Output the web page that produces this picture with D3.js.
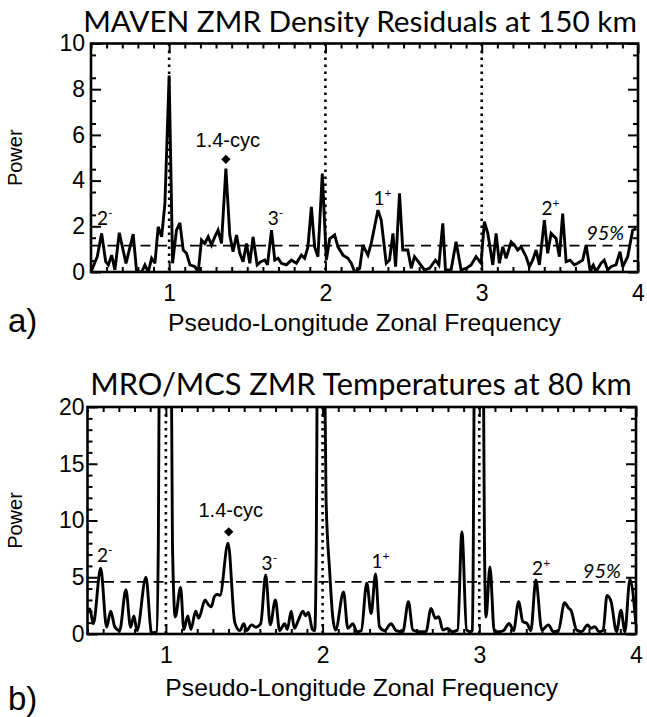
<!DOCTYPE html>
<html><head><meta charset="utf-8">
<script src="https://cdn.jsdelivr.net/npm/d3@7"></script>
<style>body{margin:0;background:#fff} svg{display:block}</style>
</head><body>
<svg id="c" width="647" height="717"></svg>
<script>
// ---------- DATA ----------
const freqA = [0.500,0.540,0.568,0.594,0.611,0.632,0.653,0.681,0.724,0.770,0.792,0.824,0.845,0.866,0.888,0.909,0.930,0.952,0.973,1.000,1.022,1.047,1.069,1.090,1.111,1.133,1.165,1.186,1.207,1.228,1.250,1.271,1.292,1.313,1.335,1.363,1.388,1.409,1.431,1.452,1.473,1.495,1.516,1.537,1.563,1.586,1.612,1.629,1.655,1.676,1.697,1.718,1.750,1.782,1.814,1.846,1.867,1.888,1.910,1.931,1.952,1.980,2.006,2.027,2.059,2.080,2.112,2.144,2.166,2.187,2.219,2.240,2.272,2.293,2.336,2.357,2.389,2.410,2.432,2.449,2.474,2.495,2.527,2.549,2.570,2.602,2.634,2.666,2.704,2.726,2.751,2.768,2.804,2.836,2.868,2.900,2.932,2.964,2.996,3.017,3.039,3.071,3.092,3.113,3.135,3.156,3.188,3.209,3.230,3.252,3.284,3.305,3.326,3.348,3.369,3.401,3.422,3.444,3.476,3.497,3.518,3.540,3.565,3.593,3.614,3.646,3.668,3.693,3.714,3.731,3.763,3.784,3.806,3.827,3.859,3.885,3.902,3.934,3.966,3.990];
const powerA = [0.00,0.67,1.69,0.45,0.31,0.74,0.09,1.72,0.38,1.66,0.00,0.00,0.31,0.00,0.60,0.38,1.98,1.54,3.00,8.60,0.38,1.83,2.15,0.96,0.82,0.31,0.23,0.00,1.40,1.25,1.54,1.18,1.54,1.83,1.25,4.53,1.62,0.89,1.62,0.82,0.45,1.25,0.38,1.54,0.31,0.45,0.52,0.31,1.83,0.52,0.60,0.38,0.31,0.52,0.38,0.74,0.60,1.10,2.85,1.10,0.67,4.31,0.52,1.45,1.62,1.10,0.74,0.60,0.38,0.00,0.16,1.18,0.74,1.25,2.71,2.27,0.38,0.52,1.69,0.23,3.44,0.96,0.96,0.16,0.67,0.38,0.09,0.16,0.52,0.31,2.13,0.09,0.09,1.32,0.09,0.16,0.31,0.67,0.38,2.20,1.69,0.31,1.69,0.38,1.10,0.60,1.32,1.18,0.96,1.10,0.67,0.23,0.52,0.96,0.31,2.27,0.82,1.69,1.47,0.67,2.56,0.45,0.52,0.31,0.38,0.52,1.18,0.09,0.31,0.00,0.38,0.52,0.09,0.23,0.31,0.89,0.23,0.67,1.83,1.90];

const freqB = [0.500,0.515,0.537,0.584,0.622,0.648,0.675,0.705,0.745,0.775,0.796,0.816,0.873,0.909,0.941,0.952,0.958,0.975,0.995,1.018,1.035,1.042,1.060,1.094,1.115,1.140,1.160,1.190,1.210,1.250,1.270,1.290,1.310,1.330,1.345,1.397,1.440,1.472,1.497,1.515,1.547,1.575,1.605,1.637,1.666,1.699,1.726,1.758,1.775,1.800,1.820,1.845,1.875,1.890,1.910,1.935,1.950,1.960,1.966,1.990,2.013,2.022,2.045,2.065,2.083,2.134,2.161,2.193,2.219,2.247,2.282,2.310,2.338,2.363,2.395,2.437,2.469,2.512,2.548,2.576,2.618,2.660,2.692,2.720,2.741,2.767,2.798,2.826,2.862,2.889,2.919,2.947,2.955,2.962,2.968,3.000,3.026,3.033,3.043,3.068,3.096,3.128,3.155,3.191,3.219,3.251,3.278,3.304,3.329,3.361,3.399,3.441,3.473,3.505,3.544,3.569,3.585,3.621,3.653,3.691,3.712,3.737,3.763,3.790,3.815,3.840,3.876,3.904,3.929,3.961,4.000];
const powerB = [2.0,2.2,0.9,5.8,0.6,2.0,0.6,0.3,3.9,0.6,1.6,0.3,5.0,0.1,0.2,8,25,70,85,70,25,8,1.5,4.1,0.4,1.6,0.4,2.0,1.4,3.0,2.6,2.4,3.3,3.5,3.4,8.0,1.0,0.3,0.9,0.3,0.8,0.6,0.9,5.2,0.8,3.0,0.3,0.9,0.4,2.0,0.5,1.2,2.0,1.6,1.9,0.4,0.3,8,25,75,25,12,5.6,1.5,0.35,3.7,0.5,0.9,0.2,0.3,4.5,1.8,5.3,0.65,0.3,0.9,0.3,0.2,2.85,0.35,0.2,0.2,2.26,1.38,1.53,0.35,0.5,0.2,0.35,9.0,0.35,0.2,0.3,8,25,70,25,8,1.5,5.9,0.2,0.2,0.3,0.94,0.3,2.85,1.09,0.94,0.3,4.76,0.35,0.8,0.2,0.3,2.76,2.3,2.1,0.35,0.2,0.8,0.5,0.65,0.2,0.3,3.4,2.9,0.2,2.1,0.2,4.8,0.8];

const xTickValues = [1, 2, 3, 4];
const yTicksA = [0, 2, 4, 6, 8, 10];
const yTicksB = [0, 5, 10, 15, 20];
const harmonicFreqs = [1, 2, 3];
const sig95A = 1.15, sig95B = 4.6;
const titleA = "MAVEN ZMR Density Residuals at 150 km";
const titleB = "MRO/MCS ZMR Temperatures at 80 km";
const xLabelText = "Pseudo-Longitude Zonal Frequency";
const yLabelText = "Power";
const waveLabelsA = [{base:"2",sup:"-",f:0.538,p:2.05},{base:"3",sup:"-",f:1.631,p:2.05},{base:"1",sup:"+",f:2.308,p:2.93},{base:"2",sup:"+",f:3.382,p:2.49}];
const waveLabelsB = [{base:"2",sup:"-",f:0.56,p:6.34},{base:"3",sup:"-",f:1.611,p:5.64},{base:"1",sup:"+",f:2.312,p:5.81},{base:"2",sup:"+",f:3.337,p:5.2}];
const cycMarkA = {f:1.363, p:4.93, lf:1.375, lp:5.46};
const cycMarkB = {f:1.401, p:9.0, lf:1.414, lp:10.3};
const sigLabelA = {f:3.912, p:1.4};
const sigLabelB = {f:3.904, p:4.93};

// ---------- DRAW ----------
const svg = d3.select("#c");
const SANS = "'Liberation Sans', Arial, Helvetica, sans-serif";
const CAL = "Lato, 'Open Sans', sans-serif";

function fitText(sel, width, base) {
  sel.attr("font-size", base);
  const w = sel.node().getComputedTextLength();
  sel.attr("font-size", base * width / w);
}

function drawPanel(o) {
  const x = d3.scaleLinear().domain([0.5, 4]).range([o.left, o.right]);
  const y = d3.scaleLinear().domain([0, o.ymax]).range([o.bottom, o.top]);
  const g = svg.append("g");
  const clipId = "clip" + o.id;
  svg.append("clipPath").attr("id", clipId).append("rect")
    .attr("x", o.left).attr("y", o.top).attr("width", o.right - o.left).attr("height", o.bottom - o.top);

  g.selectAll("line.h").data(harmonicFreqs).join("line").attr("class","h")
    .attr("x1", d => x(d)).attr("x2", d => x(d)).attr("y1", o.top).attr("y2", o.bottom)
    .attr("stroke", "#000").attr("stroke-width", 2.6).attr("stroke-dasharray", "2.6,4.4");

  g.append("line").attr("x1", o.left).attr("x2", o.right).attr("y1", y(o.sig)).attr("y2", y(o.sig))
    .attr("stroke", "#000").attr("stroke-width", 1.8).attr("stroke-dasharray", "10,6.5");

  const idx = d3.range(o.fx.length);
  const line = d3.line().x(i => x(o.fx[i])).y(i => y(o.py[i])).curve(o.curve);
  g.append("path").datum(idx).attr("d", line).attr("fill", "none").attr("stroke", "#000")
    .attr("stroke-width", 2.9).attr("stroke-linejoin", "miter").attr("stroke-miterlimit", 3)
    .attr("clip-path", `url(#${clipId})`);

  const minorX = d3.range(5, 41).filter(i => i % 10 !== 0).map(i => i / 10);
  const clean = s => s.select(".domain").remove();
  g.append("g").attr("transform", `translate(0,${o.bottom})`)
    .call(d3.axisBottom(x).tickValues(xTickValues).tickSize(-10).tickPadding(o.xPad).tickFormat(d3.format("d"))).call(clean);
  g.append("g").attr("transform", `translate(0,${o.bottom})`)
    .call(d3.axisBottom(x).tickValues(minorX).tickSize(-5).tickFormat("")).call(clean);
  g.append("g").attr("transform", `translate(0,${o.top})`)
    .call(d3.axisTop(x).tickValues(xTickValues).tickSize(-10).tickFormat("")).call(clean);
  g.append("g").attr("transform", `translate(0,${o.top})`)
    .call(d3.axisTop(x).tickValues(minorX).tickSize(-5).tickFormat("")).call(clean);
  g.append("g").attr("transform", `translate(${o.left},0)`)
    .call(d3.axisLeft(y).tickValues(o.yTicks).tickSize(-10).tickPadding(o.yPad).tickFormat(d3.format("d"))).call(clean);
  g.append("g").attr("transform", `translate(${o.left},0)`)
    .call(d3.axisLeft(y).tickValues(o.yMinor).tickSize(-5).tickFormat("")).call(clean);
  g.append("g").attr("transform", `translate(${o.right},0)`)
    .call(d3.axisRight(y).tickValues(o.yTicks).tickSize(-10).tickFormat("")).call(clean);
  g.append("g").attr("transform", `translate(${o.right},0)`)
    .call(d3.axisRight(y).tickValues(o.yMinor).tickSize(-5).tickFormat("")).call(clean);
  g.selectAll(".tick line").attr("stroke", "#000").attr("stroke-width", 2);
  g.selectAll(".tick text").attr("font-family", SANS).attr("font-size", 23).attr("fill", "#000");

  g.append("rect").attr("x", o.left).attr("y", o.top).attr("width", o.right - o.left).attr("height", o.bottom - o.top)
    .attr("fill", "none").attr("stroke", "#000").attr("stroke-width", 2.6);

  const t = g.append("text").attr("x", o.titleX).attr("y", o.titleY).attr("text-anchor", "middle")
    .attr("font-family", CAL).attr("fill", "#000").text(o.title);
  fitText(t, o.titleW, 26);

  const xl = g.append("text").attr("x", (o.left + o.right) / 2).attr("y", o.xLabelY).attr("text-anchor", "middle")
    .attr("font-family", SANS).attr("fill", "#000").text(xLabelText);
  fitText(xl, 393, 21);

  g.append("text").attr("transform", `translate(${o.yLabelX},${(o.top + o.bottom) / 2}) rotate(-90)`)
    .attr("text-anchor", "middle").attr("font-family", SANS).attr("font-size", 20).attr("fill", "#000").text(yLabelText);

  g.append("text").attr("x", 8).attr("y", o.letterY).attr("font-family", SANS).attr("font-size", 33)
    .attr("fill", "#000").text(o.letter);

  o.waves.forEach(w => {
    const tx = g.append("text").attr("x", x(w.f)).attr("y", y(w.p)).attr("font-family", CAL)
      .attr("font-size", 19).attr("fill", "#000");
    tx.append("tspan").text(w.base);
    tx.append("tspan").attr("font-size", 12).attr("dy", -8).text(w.sup);
  });

  g.append("path").attr("d", d3.symbol(d3.symbolSquare, 44)())
    .attr("transform", `translate(${x(o.cyc.f)},${y(o.cyc.p)}) rotate(45)`).attr("fill", "#000");
  g.append("text").attr("x", x(o.cyc.lf)).attr("y", y(o.cyc.lp)).attr("text-anchor", "middle")
    .attr("font-family", SANS).attr("font-size", 20).attr("fill", "#000").text("1.4-cyc");

  g.append("text").attr("x", x(o.sigLab.f)).attr("y", y(o.sigLab.p)).attr("text-anchor", "end")
    .attr("font-family", CAL).attr("font-style", "italic").attr("font-size", 20).attr("fill", "#000").text("95%");
}

drawPanel({id:"a", left:91, right:638, top:43.5, bottom:272, ymax:10, fx:freqA, py:powerA, curve:d3.curveLinear,
  sig:sig95A, yTicks:yTicksA, yMinor:d3.range(1,20,2).map(v=>v/2), xPad:13, yPad:6, title:titleA, titleX:360, titleY:32, titleW:554,
  xLabelY:331, yLabelX:22, letter:"a)", letterY:332, waves:waveLabelsA, cyc:cycMarkA, sigLab:sigLabelA});
drawPanel({id:"b", left:87.5, right:636, top:407, bottom:634, ymax:20, fx:freqB, py:powerB, curve:d3.curveMonotoneX,
  sig:sig95B, yTicks:yTicksB, yMinor:d3.range(1,20).filter(v=>v%5!==0), xPad:13, yPad:3, title:titleB, titleX:361, titleY:395, titleW:542,
  xLabelY:696, yLabelX:22, letter:"b)", letterY:710, waves:waveLabelsB, cyc:cycMarkB, sigLab:sigLabelB});
</script>
</body></html>
